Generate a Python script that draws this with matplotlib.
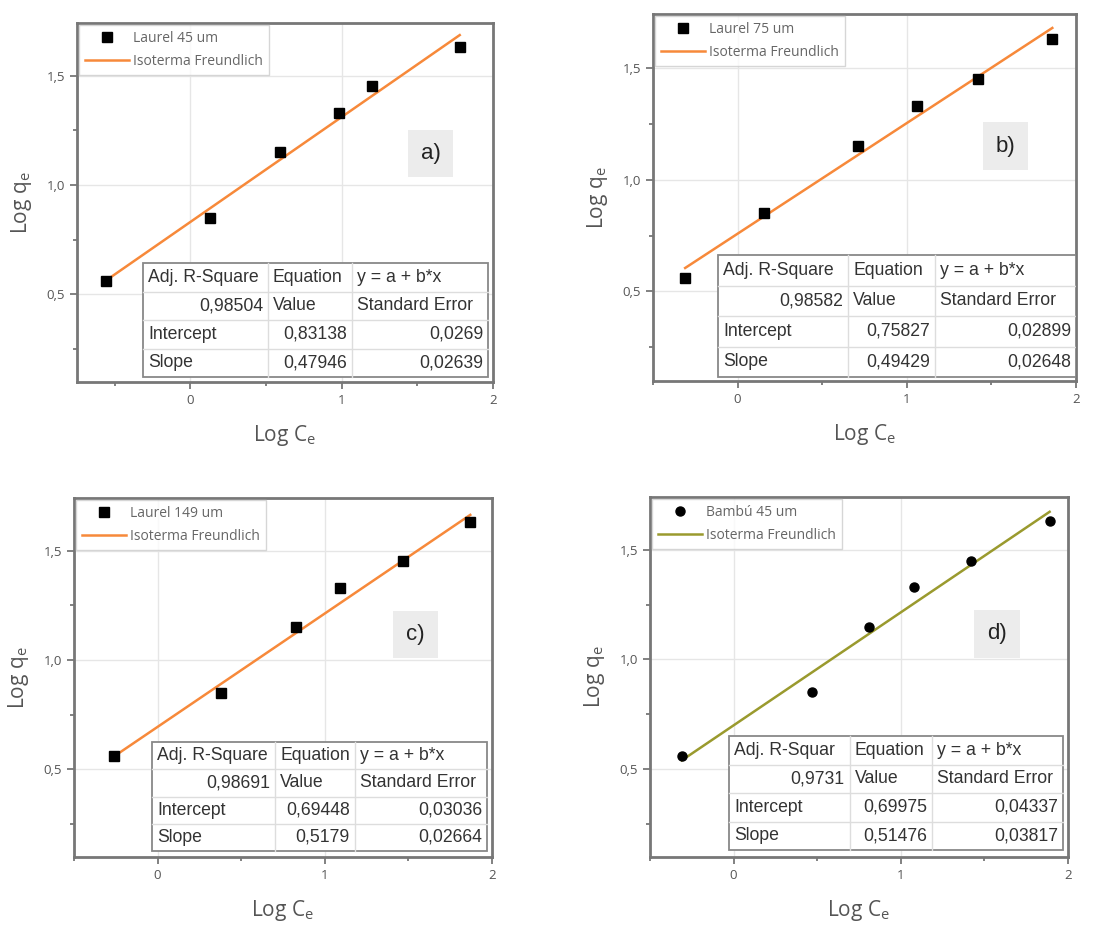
"""Freundlich isotherm fits, four panels"""

import numpy as np
import matplotlib
matplotlib.use("Agg")
from matplotlib import pyplot as plt
from matplotlib.patches import Rectangle

plt.rcParams['font.family'] = ['Open Sans', 'DejaVu Sans']
plt.rcParams['mathtext.fontset'] = 'custom'
plt.rcParams['mathtext.rm'] = 'Open Sans'
plt.rcParams['mathtext.it'] = 'Open Sans:italic'

# data
logqe = [0.56, 0.85, 1.15, 1.33, 1.45, 1.63]   # same for all panels
logce_a = [-0.56, 0.13, 0.59, 0.98, 1.20, 1.78]
logce_b = [-0.31, 0.155, 0.71, 1.06, 1.42, 1.86]
logce_c = [-0.26, 0.38, 0.83, 1.09, 1.47, 1.87]
logce_d = [-0.31, 0.47, 0.81, 1.08, 1.42, 1.89]

names = ["Laurel 45 um", "Laurel 75 um", "Laurel 149 um", "Bambú 45 um"]
letters = ["a)", "b)", "c)", "d)"]
adj_r2 = ["0,98504", "0,98582", "0,98691", "0,9731"]
r2_head = ["Adj. R-Square", "Adj. R-Square", "Adj. R-Square", "Adj. R-Squar"]
intercept = [0.83138, 0.75827, 0.69448, 0.69975]
intercept_txt = ["0,83138", "0,75827", "0,69448", "0,69975"]
intercept_err = ["0,0269", "0,02899", "0,03036", "0,04337"]
slope = [0.47946, 0.49429, 0.5179, 0.51476]
slope_txt = ["0,47946", "0,49429", "0,5179", "0,51476"]
slope_err = ["0,02639", "0,02648", "0,02664", "0,03817"]

xs = [logce_a, logce_b, logce_c, logce_d]
markers = ["s", "s", "s", "o"]
linecolors = ["#f7893a", "#f7893a", "#f7893a", "#9a9a2e"]
xmins = [-0.75, -0.5, -0.5, -0.5]

# axes boxes in pixels (left, top, right, bottom) on a 1116x926 canvas
W, H = 1116, 926
boxes = [(77, 23, 493, 382), (653, 14, 1076, 381),
         (74, 498, 492, 857), (650, 497, 1068, 857)]
# table extents in axes fraction: x0, x1, col1, col2, ytop, ybot
tables = [(0.159, 0.988, 0.459, 0.661, 0.331, 0.014),
          (0.154, 1.0, 0.461, 0.667, 0.343, 0.011),
          (0.187, 0.988, 0.481, 0.672, 0.320, 0.017),
          (0.189, 0.988, 0.478, 0.675, 0.336, 0.019)]
letterpos = [(0.85, 0.636), (0.833, 0.64), (0.816, 0.62), (0.83, 0.62)]

grey = "#777777"
txtgrey = "#555555"


def draw_table(ax, i):
    x0, x1, c1, c2, yt, yb = tables[i]
    rh = (yt - yb) / 4.0
    tr = ax.transAxes
    ax.add_patch(Rectangle((x0, yb), x1 - x0, yt - yb, transform=tr,
                           facecolor="white", edgecolor="#888888", lw=1.3, zorder=5))
    for k in range(1, 4):
        ax.plot([x0, x1], [yb + k * rh, yb + k * rh], transform=tr,
                color="#dddddd", lw=1, zorder=6)
    for c in (c1, c2):
        ax.plot([c, c], [yb, yt], transform=tr, color="#dddddd", lw=1, zorder=6)
    pad = 0.012
    rows = [
        [(r2_head[i], "l"), ("Equation", "l"), ("y = a + b*x", "l")],
        [(adj_r2[i], "r"), ("Value", "l"), ("Standard Error", "l")],
        [("Intercept", "l"), (intercept_txt[i], "r"), (intercept_err[i], "r")],
        [("Slope", "l"), (slope_txt[i], "r"), (slope_err[i], "r")],
    ]
    cols = [(x0, c1), (c1, c2), (c2, x1)]
    for r, row in enumerate(rows):
        yc = yt - (r + 0.5) * rh
        for (txt, al), (a, b) in zip(row, cols):
            if al == "l":
                ax.text(a + pad, yc, txt, transform=tr, ha="left", va="center",
                        fontsize=12.7, family="Liberation Sans", color="#333333", zorder=7)
            else:
                ax.text(b - pad, yc, txt, transform=tr, ha="right", va="center",
                        fontsize=12.7, family="Liberation Sans", color="#333333", zorder=7)


fig = plt.figure(figsize=(W / 100, H / 100), dpi=100)

for i in range(4):
    l, t, r, b = boxes[i]
    ax = fig.add_axes([l / W, 1 - b / H, (r - l) / W, (b - t) / H])
    x = np.array(xs[i])
    fitx = np.array([x.min(), x.max()])
    fity = intercept[i] + slope[i] * fitx

    ax.plot(fitx, fity, color=linecolors[i], lw=1.8, zorder=3,
            label="Isoterma Freundlich")
    ax.plot(x, logqe, linestyle="none", marker=markers[i], color="black",
            markersize=6.5, zorder=4, label=names[i])

    ax.set_xlim(xmins[i], 2)
    ax.set_ylim(0.1, 1.74)
    ax.set_xticks([0, 1, 2])
    ax.set_xticks([-0.5, 0.5, 1.5], minor=True)
    ax.set_yticks([0.5, 1.0, 1.5])
    ax.set_yticks([0.25, 0.75, 1.25], minor=True)
    ax.set_yticklabels(["0,5", "1,0", "1,5"])
    ax.grid(which="major", color="#e6e6e6", lw=1)
    ax.set_axisbelow(True)
    for s in ax.spines.values():
        s.set_color(grey)
        s.set_linewidth(2)
    ax.tick_params(which="both", direction="out", color=grey, width=1.3,
                   labelsize=9.5, labelcolor=txtgrey)
    ax.tick_params(which="major", length=5)
    ax.tick_params(which="minor", length=3)
    ax.set_xlabel(r"Log C$_\mathrm{e}$", fontsize=15, color=txtgrey, labelpad=12)
    ax.set_ylabel(r"Log q$_\mathrm{e}$", fontsize=15, color=txtgrey, labelpad=9)

    h, lab = ax.get_legend_handles_labels()
    leg = ax.legend(h[::-1], lab[::-1], loc="upper left", fontsize=10,
                    frameon=True, fancybox=False, borderaxespad=0.15,
                    handlelength=3.2, handletextpad=0.3, borderpad=0.4,
                    labelspacing=0.6)
    leg.get_frame().set_edgecolor("#cccccc")
    leg.get_frame().set_linewidth(1)
    for tx in leg.get_texts():
        tx.set_color("#666666")

    cx, cy = letterpos[i]
    ax.add_patch(Rectangle((cx - 0.054, cy - 0.066), 0.108, 0.132,
                           transform=ax.transAxes, facecolor="#ececec",
                           edgecolor="none", zorder=2))
    ax.text(cx, cy, letters[i], transform=ax.transAxes, ha="center", va="center",
            fontsize=16, family="Liberation Sans", color="#222222", zorder=3)

    draw_table(ax, i)

plt.savefig("out.png", dpi=100)
